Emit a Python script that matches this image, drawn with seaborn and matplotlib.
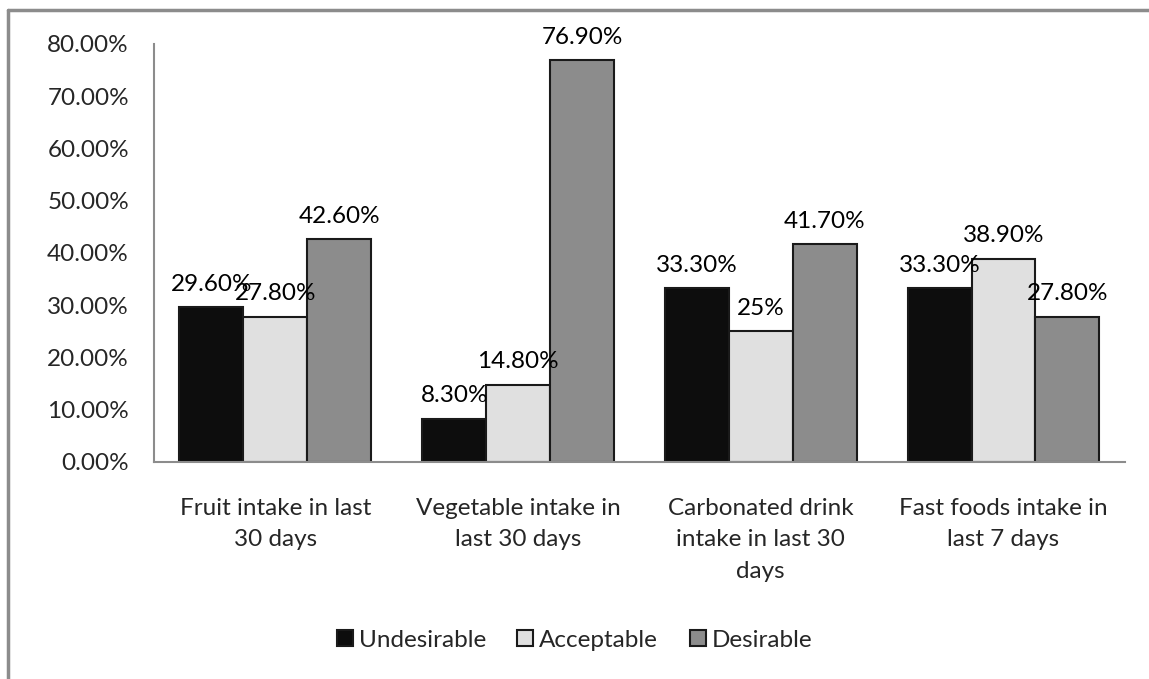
# grouped bar chart - eating habits of respondents
import matplotlib
matplotlib.use('Agg')
import pandas as pd
import matplotlib.pyplot as plt
from matplotlib.lines import Line2D
import seaborn as sns

# data
categories = ['Fruit intake in last\n30 days', 'Vegetable intake in\nlast 30 days',
              'Carbonated drink\nintake in last 30\ndays', 'Fast foods intake in\nlast 7 days']
undesirable = [29.6, 8.3, 33.3, 33.3]
acceptable = [27.8, 14.8, 25.0, 38.9]
desirable = [42.6, 76.9, 41.7, 27.8]
value_labels = {
    'Undesirable': ['29.60%', '8.30%', '33.30%', '33.30%'],
    'Acceptable': ['27.80%', '14.80%', '25%', '38.90%'],
    'Desirable': ['42.60%', '76.90%', '41.70%', '27.80%'],
}
groups = ['Undesirable', 'Acceptable', 'Desirable']
colors = ['#0d0d0d', '#e0e0e0', '#8c8c8c']

df = pd.DataFrame({
    'category': categories * 3,
    'group': ['Undesirable'] * 4 + ['Acceptable'] * 4 + ['Desirable'] * 4,
    'value': undesirable + acceptable + desirable,
})

sns.set_style('white')
plt.rcParams['font.family'] = ['Lato', 'DejaVu Sans']
fs = 17.5

fig = plt.figure(figsize=(11.49, 6.79), dpi=100)
ax = fig.add_axes([0.134, 0.3196, 0.845, 0.6156])

sns.barplot(data=df, x='category', y='value', hue='group', hue_order=groups,
            palette=colors, width=0.79, edgecolor='#1a1a1a', linewidth=1.5,
            saturation=1, ax=ax)

# value labels on top of bars (some overlap, same as original)
for cont, g in zip(ax.containers, groups):
    ax.bar_label(cont, labels=value_labels[g], padding=9, fontsize=fs, color='black')

ax.set_ylim(0, 80)
ax.set_yticks(range(0, 81, 10))
ax.set_yticklabels([f'{t}.00%' for t in range(0, 81, 10)], fontsize=fs)
ax.tick_params(axis='x', labelsize=fs, pad=26, length=0)
ax.tick_params(axis='y', pad=18, length=0)
for lab in ax.get_xticklabels():
    lab.set_linespacing(1.6)
ax.set_xlabel('')
ax.set_ylabel('')

for s in ['top', 'right']:
    ax.spines[s].set_visible(False)
for s in ['left', 'bottom']:
    ax.spines[s].set_color('#8c8c8c')
    ax.spines[s].set_linewidth(1.5)

leg = ax.legend(loc='center', bbox_to_anchor=(0.5, 0.057), bbox_transform=fig.transFigure,
                ncol=3, frameon=False, fontsize=fs, handlelength=0.65, handleheight=0.65,
                handletextpad=0.25, columnspacing=1.3)
for h in leg.legend_handles:
    h.set_linewidth(1.5)

# chart border (left and top only visible)
fig.add_artist(Line2D([8 / 1149, 8 / 1149], [0, 1 - 10 / 679], color='#8c8c8c', lw=2.5))
fig.add_artist(Line2D([8 / 1149, 1], [1 - 10 / 679, 1 - 10 / 679], color='#8c8c8c', lw=2.5))

plt.savefig('out.png', dpi=100)
